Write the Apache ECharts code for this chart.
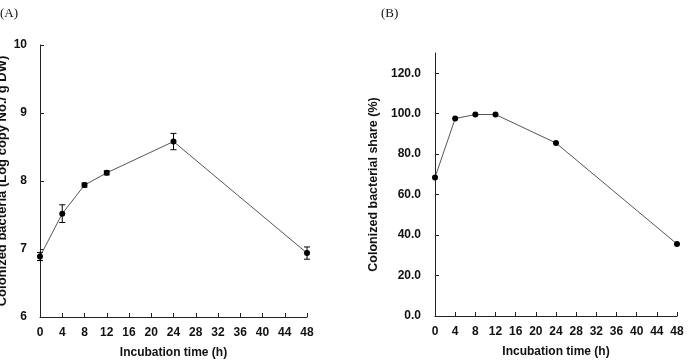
<!DOCTYPE html>
<html>
<head>
<meta charset="utf-8">
<script src="https://cdn.jsdelivr.net/npm/echarts@6/dist/echarts.min.js"></script>
<style>
  html, body { margin: 0; padding: 0; background: #fff; }
  #main { width: 688px; height: 364px; }
</style>
</head>
<body>
<div id="main"></div>
<script>
// incubation times (h)
const hours = [0, 4, 8, 12, 24, 48];
// (A) colonized bacteria, log copy / g DW, with error
const bacteriaLog = [6.89, 7.52, 7.94, 8.12, 8.58, 6.94];
const bacteriaErr = [0.06, 0.13, 0.03, 0.03, 0.12, 0.09];
// (B) colonized bacterial share (%)
const shareVals = [68.5, 97.6, 99.6, 99.6, 85.5, 35.6];
const shareTicks = [0, 20, 40, 60, 80, 100, 120];

const labelFont = { fontFamily: 'Liberation Sans', fontWeight: 'bold', fontSize: 12, color: '#111' };
const nameFont = { fontFamily: 'Liberation Sans', fontWeight: 'bold', fontSize: 12, color: '#111' };
const axisLine = { show: true, lineStyle: { color: '#222', width: 1 } };
const axisTick = { show: true, inside: true, length: 4, lineStyle: { color: '#222' } };

function xAxisFor(idx) {
  return {
    type: 'value', gridIndex: idx, min: 0, max: 48, interval: 4,
    name: 'Incubation time (h)', nameLocation: 'middle', nameGap: 30,
    nameTextStyle: nameFont,
    axisLine: axisLine, axisTick: axisTick,
    axisLabel: Object.assign({ margin: 10 }, labelFont),
    splitLine: { show: false }
  };
}

const errData = hours.map((h, i) => [h, bacteriaLog[i] - bacteriaErr[i], bacteriaLog[i] + bacteriaErr[i]]);

const chart = echarts.init(document.getElementById('main'));
chart.setOption({
  animation: false,
  backgroundColor: '#fff',
  graphic: [
    { type: 'text', left: 0, top: 7, style: { text: '(A)', font: '13px "Liberation Serif"', fill: '#111' } },
    { type: 'text', left: 381, top: 7, style: { text: '(B)', font: '13px "Liberation Serif"', fill: '#111' } }
  ],
  grid: [
    { left: 40, top: 45, width: 267, height: 272, outerBoundsMode: 'none', containLabel: false },
    { left: 435, top: 53, width: 242, height: 263, outerBoundsMode: 'none', containLabel: false }
  ],
  xAxis: [xAxisFor(0), xAxisFor(1)],
  yAxis: [
    {
      type: 'value', gridIndex: 0, min: 6, max: 10, interval: 1,
      name: 'Colonized bacteria (Log copy No./ g DW)', nameLocation: 'middle', nameGap: 31,
      nameTextStyle: Object.assign({}, nameFont, { fontSize: 13 }),
      axisLine: axisLine, axisTick: axisTick,
      axisLabel: Object.assign({ margin: 13 }, labelFont),
      splitLine: { show: false }
    },
    {
      type: 'value', gridIndex: 1, min: 0, max: 130, interval: 20,
      name: 'Colonized bacterial share (%)', nameLocation: 'middle', nameGap: 55,
      nameTextStyle: Object.assign({}, nameFont, { fontSize: 12.5 }),
      axisLine: axisLine,
      axisTick: Object.assign({ customValues: shareTicks }, axisTick),
      axisLabel: Object.assign({ margin: 14, customValues: shareTicks, formatter: v => v.toFixed(1) }, labelFont),
      splitLine: { show: false }
    }
  ],
  series: [
    {
      type: 'line', xAxisIndex: 0, yAxisIndex: 0,
      data: hours.map((h, i) => [h, bacteriaLog[i]]),
      symbol: 'circle', symbolSize: 6,
      itemStyle: { color: '#000' },
      lineStyle: { color: '#555', width: 1 }
    },
    {
      type: 'custom', xAxisIndex: 0, yAxisIndex: 0,
      data: errData,
      renderItem: function (params, api) {
        const lo = api.coord([api.value(0), api.value(1)]);
        const hi = api.coord([api.value(0), api.value(2)]);
        const w = 3;
        const st = { stroke: '#000', lineWidth: 1 };
        return {
          type: 'group',
          children: [
            { type: 'line', shape: { x1: lo[0], y1: lo[1], x2: hi[0], y2: hi[1] }, style: st },
            { type: 'line', shape: { x1: lo[0] - w, y1: lo[1], x2: lo[0] + w, y2: lo[1] }, style: st },
            { type: 'line', shape: { x1: hi[0] - w, y1: hi[1], x2: hi[0] + w, y2: hi[1] }, style: st }
          ]
        };
      },
      z: 3
    },
    {
      type: 'line', xAxisIndex: 1, yAxisIndex: 1,
      data: hours.map((h, i) => [h, shareVals[i]]),
      symbol: 'circle', symbolSize: 6,
      itemStyle: { color: '#000' },
      lineStyle: { color: '#555', width: 1 }
    }
  ]
});
</script>
</body>
</html>
